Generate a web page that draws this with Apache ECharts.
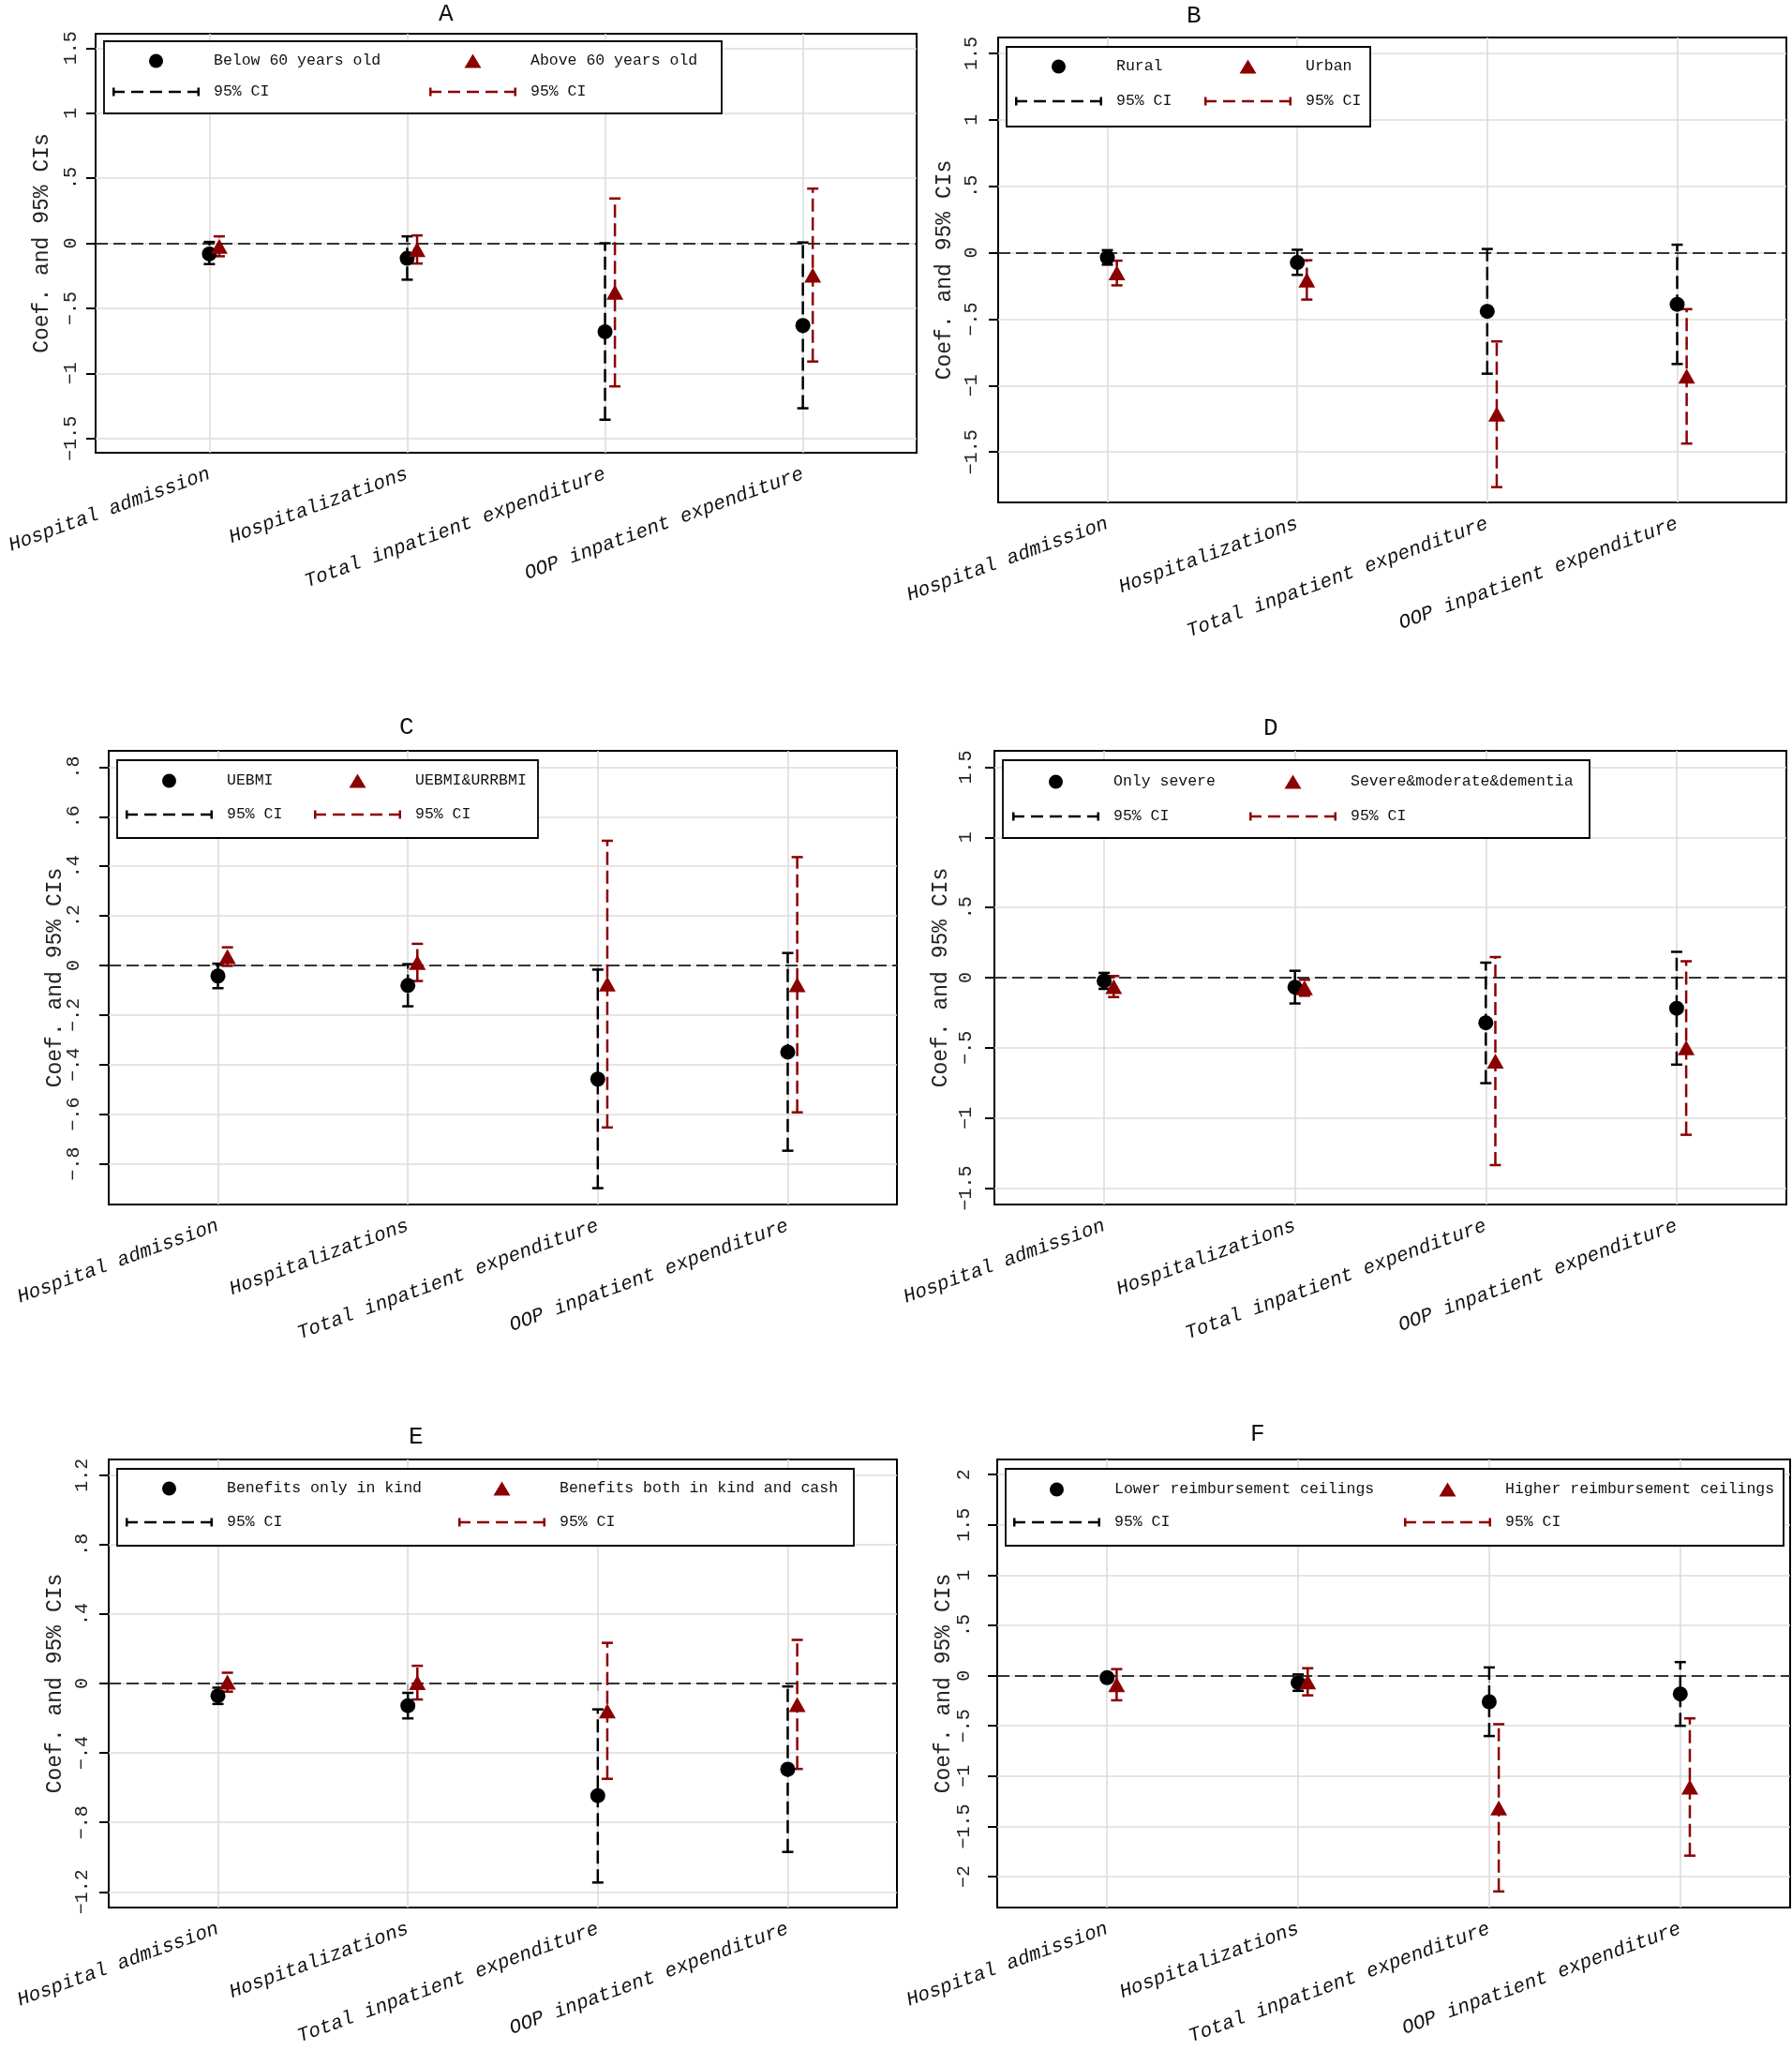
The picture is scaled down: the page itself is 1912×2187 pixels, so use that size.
<!DOCTYPE html>
<html>
<head>
<meta charset="utf-8">
<script src="https://cdn.jsdelivr.net/npm/echarts@6.0.0/dist/echarts.min.js"></script>
<style>
html,body{margin:0;padding:0;background:#fff}
#c{width:1912px;height:2187px}
</style>
</head>
<body>
<div id="c"></div>
<script>
// ---------------- DATA ----------------
const categories = ['Hospital admission', 'Hospitalizations', 'Total inpatient expenditure', 'OOP inpatient expenditure'];

// Panel A
const aGroups = ['Below 60 years old', 'Above 60 years old'];
const aTicks = [-1.5, -1, -0.5, 0, 0.5, 1, 1.5];
const aCoef1 = [-0.082, -0.116, -0.680, -0.632];
const aLow1  = [-0.160, -0.280, -1.356, -1.268];
const aHigh1 = [0.010, 0.053, 0.000, 0.006];
const aCoef2 = [-0.023, -0.048, -0.377, -0.245];
const aLow2  = [-0.100, -0.156, -1.100, -0.909];
const aHigh2 = [0.053, 0.060, 0.344, 0.420];

// Panel B
const bGroups = ['Rural', 'Urban'];
const bTicks = [-1.5, -1, -0.5, 0, 0.5, 1, 1.5];
const bCoef1 = [-0.035, -0.074, -0.442, -0.389];
const bLow1  = [-0.090, -0.167, -0.911, -0.838];
const bHigh1 = [0.019, 0.022, 0.028, 0.060];
const bCoef2 = [-0.152, -0.205, -1.215, -0.930];
const bLow2  = [-0.246, -0.353, -1.765, -1.437];
const bHigh2 = [-0.060, -0.057, -0.668, -0.425];

// Panel C
const cGroups = ['UEBMI', 'UEBMI&URRBMI'];
const cTicks = [-0.8, -0.6, -0.4, -0.2, 0, 0.2, 0.4, 0.6, 0.8];
const cCoef1 = [-0.043, -0.081, -0.459, -0.350];
const cLow1  = [-0.092, -0.165, -0.899, -0.748];
const cHigh1 = [0.007, 0.005, -0.017, 0.050];
const cCoef2 = [0.036, 0.012, -0.075, -0.078];
const cLow2  = [-0.002, -0.063, -0.654, -0.593];
const cHigh2 = [0.073, 0.087, 0.503, 0.437];

// Panel D
const dGroups = ['Only severe', 'Severe&moderate&dementia'];
const dTicks = [-1.5, -1, -0.5, 0, 0.5, 1, 1.5];
const dCoef1 = [-0.023, -0.068, -0.322, -0.218];
const dLow1  = [-0.080, -0.184, -0.752, -0.620];
const dHigh1 = [0.034, 0.049, 0.107, 0.184];
const dCoef2 = [-0.063, -0.072, -0.595, -0.500];
const dLow2  = [-0.138, -0.129, -1.336, -1.120];
const dHigh2 = [0.012, -0.015, 0.147, 0.117];

// Panel E
const eGroups = ['Benefits only in kind', 'Benefits both in kind and cash'];
const eTicks = [-1.2, -0.8, -0.4, 0, 0.4, 0.8, 1.2];
const eCoef1 = [-0.071, -0.128, -0.646, -0.494];
const eLow1  = [-0.118, -0.201, -1.146, -0.970];
const eHigh1 = [-0.024, -0.054, -0.149, -0.017];
const eCoef2 = [0.008, 0.005, -0.158, -0.121];
const eLow2  = [-0.047, -0.092, -0.549, -0.492];
const eHigh2 = [0.062, 0.102, 0.234, 0.251];

// Panel F
const fGroups = ['Lower reimbursement ceilings', 'Higher reimbursement ceilings'];
const fTicks = [-2, -1.5, -1, -0.5, 0, 0.5, 1, 1.5, 2];
const fCoef1 = [-0.020, -0.070, -0.260, -0.182];
const fLow1  = [-0.050, -0.151, -0.601, -0.499];
const fHigh1 = [0.010, 0.012, 0.082, 0.135];
const fCoef2 = [-0.090, -0.061, -1.315, -1.108];
const fLow2  = [-0.245, -0.196, -2.147, -1.791];
const fHigh2 = [0.065, 0.074, -0.483, -0.425];

const yTitle = 'Coef. and 95% CIs';
const ciLabel = '95% CI';

// ---------------- LAYOUT / STYLE ----------------
const FONT = '"Liberation Mono", "DejaVu Sans Mono", monospace';
const BLACK = '#000000';
const RED = '#8b0000';
const OFF = 0.05;           // horizontal offset of the second group
const CIW = 93;             // legend CI icon width
const ICONH = 15;

const panels = [
  {key:'A', groups:aGroups, ticks:aTicks, s1:[aCoef1,aLow1,aHigh1], s2:[aCoef2,aLow2,aHigh2],
   box:[102,36,978,483], yr:[-1.61,1.61], lm:16, title:[476,16],
   lg:{box:[111,44,770,121], c1:120, c2:458, r1:65, r2:98}},
  {key:'B', groups:bGroups, ticks:bTicks, s1:[bCoef1,bLow1,bHigh1], s2:[bCoef2,bLow2,bHigh2],
   box:[1065,40,1906,536], yr:[-1.88,1.62], lm:18, title:[1274,18],
   lg:{box:[1074,50,1462,135], c1:1083, c2:1285, r1:71, r2:108}},
  {key:'C', groups:cGroups, ticks:cTicks, s1:[cCoef1,cLow1,cHigh1], s2:[cCoef2,cLow2,cHigh2],
   box:[116,801,957,1285], yr:[-0.965,0.866], lm:27, title:[434,777],
   lg:{box:[125,811,574,894], c1:134, c2:335, r1:833, r2:869}},
  {key:'D', groups:dGroups, ticks:dTicks, s1:[dCoef1,dLow1,dHigh1], s2:[dCoef2,dLow2,dHigh2],
   box:[1061,801,1906,1285], yr:[-1.617,1.617], lm:20, title:[1356,778],
   lg:{box:[1070,811,1696,894], c1:1080, c2:1333, r1:834, r2:871}},
  {key:'E', groups:eGroups, ticks:eTicks, s1:[eCoef1,eLow1,eHigh1], s2:[eCoef2,eLow2,eHigh2],
   box:[116,1557,957,2035], yr:[-1.29,1.29], lm:18, title:[444,1534],
   lg:{box:[125,1567,911,1649], c1:134, c2:489, r1:1588, r2:1624}},
  {key:'F', groups:fGroups, ticks:fTicks, s1:[fCoef1,fLow1,fHigh1], s2:[fCoef2,fLow2,fHigh2],
   box:[1064,1557,1910,2035], yr:[-2.307,2.151], lm:25, title:[1342,1531],
   lg:{box:[1073,1567,1903,1649], c1:1081, c2:1498, r1:1589, r2:1624}}
];

function stataNum(v) {
  if (Math.abs(v) < 1e-9) return '0';
  let s = String(Math.round(v * 100) / 100);
  s = s.replace(/^(-?)0\./, '$1.');
  return s.replace('-', '\u2212');
}

function ciIconPath(w, h) {
  const cap = 2.5, ch = 9, th = 2.6, dash = 13, gap = 7;
  const y0 = (h - ch) / 2, ly = (h - th) / 2;
  let d = 'M0,0 M' + w + ',' + h + ' ';
  d += 'M0,' + y0 + 'h' + cap + 'v' + ch + 'h-' + cap + 'z ';
  d += 'M' + (w - cap) + ',' + y0 + 'h' + cap + 'v' + ch + 'h-' + cap + 'z ';
  for (let x = 0; x < w; x += dash + gap) {
    const len = Math.min(dash, w - x);
    d += 'M' + x + ',' + ly + 'h' + len + 'v' + th + 'h-' + len + 'z ';
  }
  return 'path://' + d;
}
function markerIconPath(w, h, kind) {
  const cx = w / 2;
  let d = 'M0,0 M' + w + ',' + h + ' ';
  if (kind === 'triangle') {
    const hw = 9;
    d += 'M' + (cx - hw) + ',' + h + 'L' + cx + ',0L' + (cx + hw) + ',' + h + 'Z';
  } else {
    const r = h / 2;
    d += 'M' + (cx - r) + ',' + r + 'A' + r + ',' + r + ' 0 1,1 ' + (cx + r) + ',' + r +
         'A' + r + ',' + r + ' 0 1,1 ' + (cx - r) + ',' + r + 'Z';
  }
  return 'path://' + d;
}
const CI_ICON = ciIconPath(CIW, ICONH);
const TRI_ICON = markerIconPath(CIW, ICONH, 'triangle');
const DOT_ICON = markerIconPath(CIW, ICONH + 1, 'circle');

function ciRender(color) {
  return function (params, api) {
    const x = api.value(0), lo = api.value(1), hi = api.value(2);
    const pLo = api.coord([x, lo]);
    const pHi = api.coord([x, hi]);
    const cw = 6;
    return {
      type: 'group',
      children: [
        {type:'line', shape:{x1:pLo[0], y1:pLo[1], x2:pHi[0], y2:pHi[1]},
         style:{stroke:color, lineWidth:2.5, lineDash:[14,6], fill:null}},
        {type:'line', shape:{x1:pHi[0]-cw, y1:pHi[1], x2:pHi[0]+cw, y2:pHi[1]},
         style:{stroke:color, lineWidth:2.5, fill:null}},
        {type:'line', shape:{x1:pLo[0]-cw, y1:pLo[1], x2:pLo[0]+cw, y2:pLo[1]},
         style:{stroke:color, lineWidth:2.5, fill:null}}
      ]
    };
  };
}

const catPos = categories.map((c, i) => i + 1);

const option = {
  animation: false,
  backgroundColor: '#ffffff',
  title: [], grid: [], xAxis: [], yAxis: [], legend: [], series: []
};

panels.forEach((p, i) => {
  const [l, t, r, b] = p.box;
  option.title.push({
    text: p.key, left: p.title[0] - 8, top: p.title[1] - 14, padding: 0,
    textStyle: {fontFamily: FONT, fontSize: 26, fontWeight: 'normal', color: '#111'}
  });
  option.grid.push({
    left: l, top: t, width: r - l, height: b - t, containLabel: false, outerBoundsMode: 'none',
    show: true, borderColor: '#000', borderWidth: 2, backgroundColor: '#fff'
  });
  option.xAxis.push({
    type: 'value', gridIndex: i, min: 0.425, max: 4.575,
    axisLine: {show: false}, splitLine: {show: false},
    axisTick: {show: true, customValues: catPos, length: 8, lineStyle: {color: '#000', width: 2}},
    axisLabel: {customValues: catPos, formatter: v => categories[Math.round(v) - 1] || '',
      rotate: 20, margin: 22, fontFamily: FONT, fontStyle: 'italic', fontSize: 21, color: '#111'}
  });
  option.yAxis.push({
    type: 'value', gridIndex: i, min: p.yr[0], max: p.yr[1],
    axisLine: {show: false}, splitLine: {show: false},
    axisTick: {show: true, customValues: p.ticks, length: 10, lineStyle: {color: '#000', width: 2}},
    axisLabel: {customValues: p.ticks, formatter: stataNum, rotate: 90, margin: p.lm,
      fontFamily: FONT, fontSize: 20, color: '#222'},
    name: yTitle, nameLocation: 'middle', nameGap: 46, nameRotate: 90, nameMoveOverlap: false,
    nameTextStyle: {fontFamily: FONT, fontSize: 23, color: '#222'}
  });

  // legend geometry
  const g = p.lg;
  const [bl, bt, br, bb] = g.box;
  const gap = (g.r2 - g.r1) - 20;
  const padTop = g.r1 - bt - 10;
  const padBottom = bb - g.r2 - 10;
  const padLeft = g.c1 - bl;
  const padRight = 6;
  const W1 = g.c2 - g.c1 - gap - (CIW + 15);
  const W2 = br - padRight - (g.c2 + CIW + 15);
  const lw = (CIW + 15 + W1) + gap + (CIW + 15 + W2) + 2;
  const ciName1 = ciLabel + '|' + p.key + '1';
  const ciName2 = ciLabel + '|' + p.key + '2';
  option.legend.push({
    show: true, z: 6, left: bl, top: bt, width: lw, orient: 'horizontal', align: 'left',
    padding: [padTop, padRight, padBottom, padLeft], itemGap: gap,
    itemWidth: CIW, itemHeight: ICONH, symbolKeepAspect: true,
    backgroundColor: '#fff', borderColor: '#000', borderWidth: 1.8, borderRadius: 0,
    selectedMode: false,
    textStyle: {fontFamily: FONT, fontSize: 16.5, color: '#111', lineHeight: 20, padding: [0, 0, 0, 10]},
    formatter: name => name.split('|')[0],
    data: [
      {name: p.groups[0], icon: DOT_ICON, textStyle: {width: W1}},
      {name: p.groups[1], icon: TRI_ICON, textStyle: {width: W2}},
      {name: ciName1, icon: CI_ICON, textStyle: {width: W1}},
      {name: ciName2, icon: CI_ICON, textStyle: {width: W2}}
    ]
  });

  // gridlines
  option.series.push({
    type: 'scatter', xAxisIndex: i, yAxisIndex: i, data: [], z: 1, silent: true,
    markLine: {z: 1, silent: true, symbol: ['none', 'none'], label: {show: false}, animation: false,
      emphasis: {disabled: true},
      lineStyle: {color: '#dcdcdc', width: 1.6, type: 'solid'},
      data: p.ticks.map(v => ({yAxis: v})).concat(catPos.map(v => ({xAxis: v})))}
  });
  // zero reference line
  option.series.push({
    type: 'scatter', xAxisIndex: i, yAxisIndex: i, data: [], z: 2, silent: true,
    markLine: {z: 2, silent: true, symbol: ['none', 'none'], label: {show: false}, animation: false,
      emphasis: {disabled: true},
      lineStyle: {color: '#333', width: 2, type: [13, 6]},
      data: [{yAxis: 0}]}
  });
  // CIs
  [[p.s1, BLACK, 0, ciName1], [p.s2, RED, OFF, ciName2]].forEach(([s, color, off, nm]) => {
    option.series.push({
      type: 'custom', name: nm, xAxisIndex: i, yAxisIndex: i, z: 3,
      itemStyle: {color: color},
      encode: {x: 0, y: [1, 2]},
      data: categories.map((c, k) => [k + 1 + off, s[1][k], s[2][k]]),
      renderItem: ciRender(color)
    });
  });
  // point estimates
  option.series.push({
    type: 'scatter', name: p.groups[0], xAxisIndex: i, yAxisIndex: i, z: 4,
    symbol: 'circle', symbolSize: 16, itemStyle: {color: BLACK, opacity: 1},
    data: categories.map((c, k) => [k + 1, p.s1[0][k]])
  });
  option.series.push({
    type: 'scatter', name: p.groups[1], xAxisIndex: i, yAxisIndex: i, z: 4,
    symbol: 'triangle', symbolSize: [18, 16], itemStyle: {color: RED, opacity: 1},
    data: categories.map((c, k) => [k + 1 + OFF, p.s2[0][k]])
  });
});

const chart = echarts.init(document.getElementById('c'), null, {renderer: 'canvas'});
chart.setOption(option);
</script>
</body>
</html>
